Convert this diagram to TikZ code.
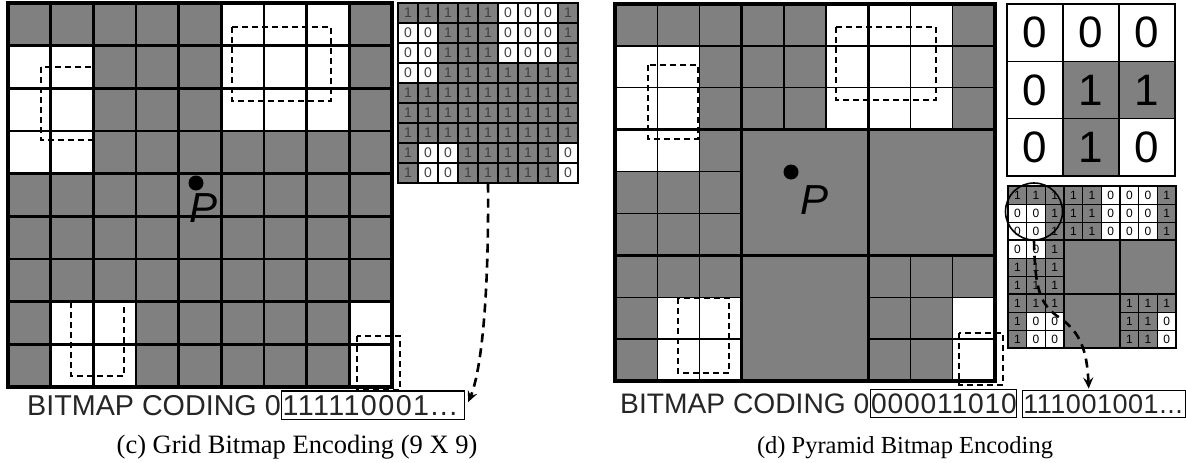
\documentclass[tikz,border=0pt]{standalone}
\usepackage{fontspec}
\setmainfont{Liberation Serif}
\newfontfamily\arial{Liberation Sans}
\usetikzlibrary{arrows.meta,calc}
\definecolor{cg}{HTML}{808080}
\tikzset{
 dbox/.style={line width=1.3pt, dash pattern=on 6pt off 4pt},
 darrow/.style={line width=2.6pt, dash pattern=on 9pt off 6pt, -{Stealth[length=11pt,width=10pt,inset=4pt]}},
 codetext/.style={inner sep=0pt, anchor=base west, font=\arial\fontsize{#1}{30}\selectfont, text=black!85},
 codebox/.style 2 args={draw, line width=1.2pt, anchor=base west, inner xsep=1pt, inner ysep=4pt, font=\arial\fontsize{#1}{30}\selectfont\addfontfeature{LetterSpace=#2}, text=black!85},
 captext/.style={anchor=base, inner sep=0pt, font=\fontsize{#1}{28}\selectfont},
 plabel/.style={inner sep=0pt, font=\arial\itshape\fontsize{42}{44}\selectfont},
 pdot/.style={circle, fill=black, inner sep=0pt, minimum size=15pt},
 scell/.style={draw, line width=1.1pt, minimum width=20pt, minimum height=20pt, inner sep=0pt, font=\arial\fontsize{14}{14}\selectfont, text=black!75},
 pcell/.style={inner sep=0pt, font=\arial\fontsize{12}{12}\selectfont, text=black},
 bigdigit/.style={inner sep=0pt, font=\arial\fontsize{44}{44}\selectfont, text=black},
}
\def\patC{0/{1,1,1,1,1,0,0,0,1},1/{0,0,1,1,1,0,0,0,1},2/{0,0,1,1,1,0,0,0,1},3/{0,0,1,1,1,1,1,1,1},4/{1,1,1,1,1,1,1,1,1},5/{1,1,1,1,1,1,1,1,1},6/{1,1,1,1,1,1,1,1,1},7/{1,0,0,1,1,1,1,1,0},8/{1,0,0,1,1,1,1,1,0}}
\def\patT{0/{0,0,0},1/{0,1,1},2/{0,1,0}}
\newcommand\gridfill[5]{%
 \foreach \rr/\row in #5 {\foreach \v [count=\cc from 0] in \row {
   \ifnum\v=1 \def\fc{cg}\else\def\fc{white}\fi
   \fill[fill=\fc] ({#1+\cc*#3},{#2+\rr*#4}) rectangle +(#3,#4);
 }}}
\newcommand\pyrlines[7]{% x0 y0 cw ch thin block outer
 \foreach \bi/\bj in {0/0,0/1,0/2,1/0,2/0,2/2} {\foreach \k in {1,2} {
   \draw[line width=#5] ({#1+(3*\bj+\k)*#3},{#2+3*\bi*#4}) -- ++(0,{3*#4});
   \draw[line width=#5] ({#1+3*\bj*#3},{#2+(3*\bi+\k)*#4}) -- ++({3*#3},0);
 }}
 \foreach \k in {3,6} {
   \draw[line width=#6] ({#1+\k*#3},#2) -- ++(0,{9*#4});
   \draw[line width=#6] (#1,{#2+\k*#4}) -- ++({9*#3},0);
 }
 \draw[line width=#7] (#1,#2) rectangle ({#1+9*#3},{#2+9*#4});
}
\begin{document}
\begin{tikzpicture}[x=1pt,y=-1pt]
\useasboundingbox (0,0) rectangle (1186,463);
\fill[white] (0,0) rectangle (1186,463);

% ---------------- (c) grid ----------------
\gridfill{8}{3}{42.667}{42.667}{\patC}
\foreach \k in {1,...,8} {
  \draw[line width=2.6pt] ({8+\k*42.667},3) -- ++(0,384);
  \draw[line width=2.6pt] (8,{3+\k*42.667}) -- ++(384,0);
}
\draw[line width=4pt] (8,3) rectangle (392,387);
\draw[dbox] (232,27) rectangle (331,101);
\draw[dbox] (41,67) rectangle (93,140);
\draw[dbox] (71,302) rectangle (124,376);
\draw[dbox] (357,336) rectangle (400,390);
\node[pdot] (dotc) at (196,183) {};
\node[plabel] (pc) at (204,208) {P};

% small bitmap (c)
\foreach \rr/\row in \patC {\foreach \v [count=\cc from 0] in \row {
  \ifnum\v=1 \def\fc{cg}\else\def\fc{white}\fi
  \node[scell, fill=\fc] (sc\rr-\cc) at ({408+\cc*20},{13+\rr*20}) {\v};
}}
\draw[line width=1.4pt] (sc0-0.north west) rectangle (sc8-8.south east);

% coding (c)
\node[codetext=28.7] (bc1) at (27,415) {BITMAP CODING 0};
\node[codebox={28.7}{5}] (b1) at (bc1.base east) {\makebox[181pt][l]{111110001...}};
\draw[darrow] (sc8-4.south) .. controls (489,300) and (481,372) .. ($(b1.east)+(3,-3)$);

% ---------------- (d) pyramid ----------------
\gridfill{615}{4}{42.22}{41.89}{\patC}
\pyrlines{615}{4}{42.22}{41.89}{1.3pt}{2.8pt}{4pt}
\draw[dbox] (836,27) rectangle (936,100);
\draw[dbox] (648,65) rectangle (698,139);
\draw[dbox] (678,298) rectangle (729,373);
\draw[dbox] (959,333) rectangle (1003,385);
\node[pdot] (dotd) at (791,172) {};
\node[plabel] (pd) at (814,200) {P};

% top level 3x3
\gridfill{1007}{4}{56}{57.33}{\patT}
\foreach \rr/\row in \patT {\foreach \v [count=\cc from 0] in \row {
  \node[bigdigit] (t\rr-\cc) at ({1035+\cc*56},{32.67+\rr*57.33}) {\v};
}}
\foreach \k in {1,2} {
  \draw[line width=1.6pt] ({1007+\k*56},4) -- ++(0,172);
  \draw[line width=1.6pt] (1007,{4+\k*57.33}) -- ++(168,0);
}
\draw[line width=1.8pt] (1007,4) rectangle (1175,176);

% small pyramid bitmap
\gridfill{1008}{186}{18.67}{18}{\patC}
\foreach \rr/\row in \patC {\foreach \v [count=\cc from 0] in \row {
  \pgfmathtruncatemacro\bk{3*floor(\rr/3)+floor(\cc/3)}
  \ifnum\bk=4 \else\ifnum\bk=5 \else\ifnum\bk=7 \else
    \node[pcell] (p\rr-\cc) at ({1017.33+\cc*18.67},{195+\rr*18}) {\v};
  \fi\fi\fi
}}
\pyrlines{1008}{186}{18.67}{18}{1pt}{1.6pt}{1.6pt}
\node[draw, circle, line width=1.6pt, minimum size=57pt, inner sep=0pt] (circ) at (1034,211.5) {};

% coding (d)
\node[codetext=28.2] (bc2) at (620,413) {BITMAP CODING 0};
\node[codebox={28.2}{3}] (b2a) at (bc2.base east) {\makebox[144pt][l]{000011010}};
\node[codebox={27}{2}] (b2b) at ($(b2a.base east)+(5,0)$) {\makebox[161pt][l]{111001001...}};
\draw[darrow] (circ.south) .. controls (1035,290) and (1040,305) .. (1060,318) .. controls (1080,332) and (1087,350) .. ($(b2b.north west)+(67,-1)$);

% captions
\node[captext=26.5] (capc) at (297,453) {(c) Grid Bitmap Encoding (9 X 9)};
\node[captext=24.5] (capd) at (905,453) {(d) Pyramid Bitmap Encoding};
\end{tikzpicture}
\end{document}
